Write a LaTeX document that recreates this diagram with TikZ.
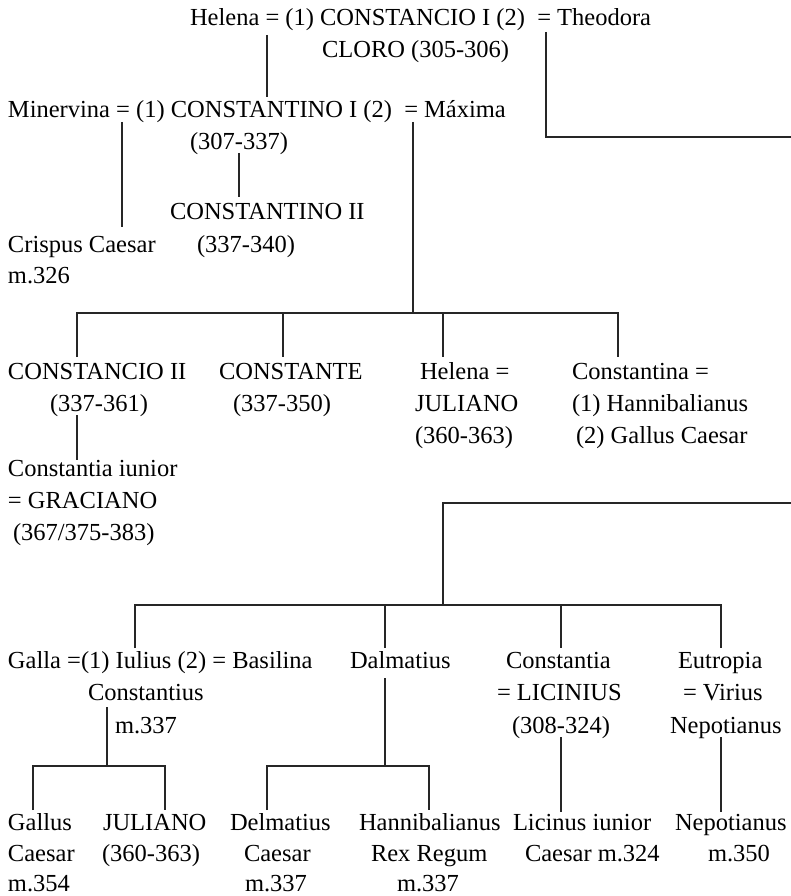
\documentclass[tikz,border=0pt]{standalone}
\usepackage{fontspec}
\setmainfont{Liberation Serif}
\begin{document}
\begin{tikzpicture}[x=1pt,y=-1pt,
  lbl/.style={inner sep=0pt, outer sep=0pt, font=\rmfamily\fontsize{24.5}{32}\selectfont},
  W/.style={lbl, anchor=base west},
  link/.style={line width=1.4pt, draw=black!85}]
\useasboundingbox (0,0) rectangle (791,896);

% ---------- generation 1 ----------
\node[W] (helena)  at (190,26) {Helena = (1) CONSTANCIO I (2)\ \ = Theodora};
\node[W] (cloro)   at (322,58) {CLORO (305-306)};

% ---------- generation 2 ----------
\node[W] (minerv)  at (8,118)   {Minervina = (1) CONSTANTINO I (2)\ \ = Máxima};
\node[W] (cti)     at (190,150) {(307-337)};
\node[W] (ctii)    at (170,219) {CONSTANTINO II};
\node[W] (ctiiy)   at (197,252) {(337-340)};
\node[W] (crisp)   at (8,252)   {Crispus Caesar};
\node[W] (crispm)  at (8,283)   {m.326};

% ---------- children of Constantino I and Máxima ----------
\node[W] (csii)    at (8,379)   {CONSTANCIO II};
\node[W] (csiiy)   at (50,411)  {(337-361)};
\node[W] (cste)    at (219,379) {CONSTANTE};
\node[W] (cstey)   at (233,411) {(337-350)};
\node[W] (hel2)    at (420,379) {Helena =};
\node[W] (jul1)    at (415,411) {JULIANO};
\node[W] (jul1y)   at (415,443) {(360-363)};
\node[W] (cina)    at (572,379) {Constantina =};
\node[W] (cinab)   at (572,411) {(1) Hannibalianus};
\node[W] (cinac)   at (576,443) {(2) Gallus Caesar};

\node[W] (ciun)    at (8,476)   {Constantia iunior};
\node[W] (grac)    at (8,508)   {= GRACIANO};
\node[W] (gracy)   at (13,540)  {(367/375-383)};

% ---------- children of Constancio I and Theodora ----------
\node[W] (galla)   at (8,668)   {Galla =(1) Iulius (2) = Basilina};
\node[W] (iulb)    at (88,700)  {Constantius};
\node[W] (iulc)    at (115,733) {m.337};
\node[W] (dalm)    at (350,668) {Dalmatius};
\node[W] (ctia)    at (506,668) {Constantia};
\node[W] (lic)     at (497,700) {= LICINIUS};
\node[W] (licy)    at (512,733) {(308-324)};
\node[W] (eutr)    at (678,668) {Eutropia};
\node[W] (vir)     at (683,700) {= Virius};
\node[W] (virb)    at (670,733) {Nepotianus};

% ---------- grandchildren ----------
\node[W] (gal1)    at (8,830)   {Gallus};
\node[W] (gal2)    at (8,861)   {Caesar};
\node[W] (gal3)    at (8,891)   {m.354};
\node[W] (jul2)    at (103,830) {JULIANO};
\node[W] (jul2y)   at (102,861) {(360-363)};
\node[W] (del1)    at (230,830) {Delmatius};
\node[W] (del2)    at (244,861) {Caesar};
\node[W] (del3)    at (245,891) {m.337};
\node[W] (han1)    at (359,830) {Hannibalianus};
\node[W] (han2)    at (371,861) {Rex Regum};
\node[W] (han3)    at (397,891) {m.337};
\node[W] (licj1)   at (513,830) {Licinus iunior};
\node[W] (licj2)   at (525,861) {Caesar m.324};
\node[W] (nep1)    at (675,830) {Nepotianus};
\node[W] (nep2)    at (708,861) {m.350};

% ---------- junction points ----------
\coordinate (helDown)  at (267,35);
\coordinate (helEnd)   at (267,97);
\coordinate (theoTop)  at (546,32);
\coordinate (theoBend) at (546,137);
\coordinate (theoOut)  at (791,137);
\coordinate (minTop)   at (122,122);
\coordinate (minEnd)   at (122,227);
\coordinate (c1Top)    at (239,153);
\coordinate (c1End)    at (239,197);
\coordinate (maxTop)   at (413,122);
\coordinate (maxBar)   at (413,313);
\coordinate (barL)     at (77,313);
\coordinate (barR)     at (618,313);
\coordinate (csiiTop)  at (77,357);
\coordinate (csteBar)  at (283,313);
\coordinate (csteTop)  at (283,357);
\coordinate (helBar)   at (443,313);
\coordinate (helTop)   at (443,357);
\coordinate (cinaTop)  at (618,357);
\coordinate (csiiDown) at (77,415);
\coordinate (ciunTop)  at (77,460);
\coordinate (theoIn)   at (791,503);
\coordinate (tBend)    at (443,503);
\coordinate (tBar)     at (443,605);
\coordinate (gBarL)    at (135,605);
\coordinate (gBarR)    at (721,605);
\coordinate (iulTop)   at (135,648);
\coordinate (dalBar)   at (385,605);
\coordinate (dalTop)   at (385,648);
\coordinate (ctiaBar)  at (561,605);
\coordinate (ctiaTop)  at (561,648);
\coordinate (eutrTop)  at (721,648);
\coordinate (iulDown)  at (107,707);
\coordinate (iulBar)   at (107,766);
\coordinate (iBarL)    at (33,766);
\coordinate (iBarR)    at (165,766);
\coordinate (gallTop)  at (33,810);
\coordinate (julTop)   at (165,810);
\coordinate (dalDown)  at (385,678);
\coordinate (dalBarM)  at (385,766);
\coordinate (dBarL)    at (267,766);
\coordinate (dBarR)    at (429,766);
\coordinate (delTop)   at (267,810);
\coordinate (hanTop)   at (429,810);
\coordinate (licDown)  at (561,737);
\coordinate (licjTop)  at (561,812);
\coordinate (eutDown)  at (721,737);
\coordinate (nepTop)   at (721,812);

% ---------- descent lines ----------
\draw[link] (helDown) -- (helEnd);
\draw[link] (theoTop) -- (theoBend) -- (theoOut);
\draw[link] (minTop) -- (minEnd);
\draw[link] (c1Top) -- (c1End);
\draw[link] (maxTop) -- (maxBar);
\draw[link] (csiiTop) -- (barL) -- (barR) -- (cinaTop);
\draw[link] (csteBar) -- (csteTop);
\draw[link] (helBar) -- (helTop);
\draw[link] (csiiDown) -- (ciunTop);
\draw[link] (theoIn) -- (tBend) -- (tBar);
\draw[link] (iulTop) -- (gBarL) -- (gBarR) -- (eutrTop);
\draw[link] (dalBar) -- (dalTop);
\draw[link] (ctiaBar) -- (ctiaTop);
\draw[link] (iulDown) -- (iulBar);
\draw[link] (gallTop) -- (iBarL) -- (iBarR) -- (julTop);
\draw[link] (dalDown) -- (dalBarM);
\draw[link] (delTop) -- (dBarL) -- (dBarR) -- (hanTop);
\draw[link] (licDown) -- (licjTop);
\draw[link] (eutDown) -- (nepTop);
\end{tikzpicture}
\end{document}
